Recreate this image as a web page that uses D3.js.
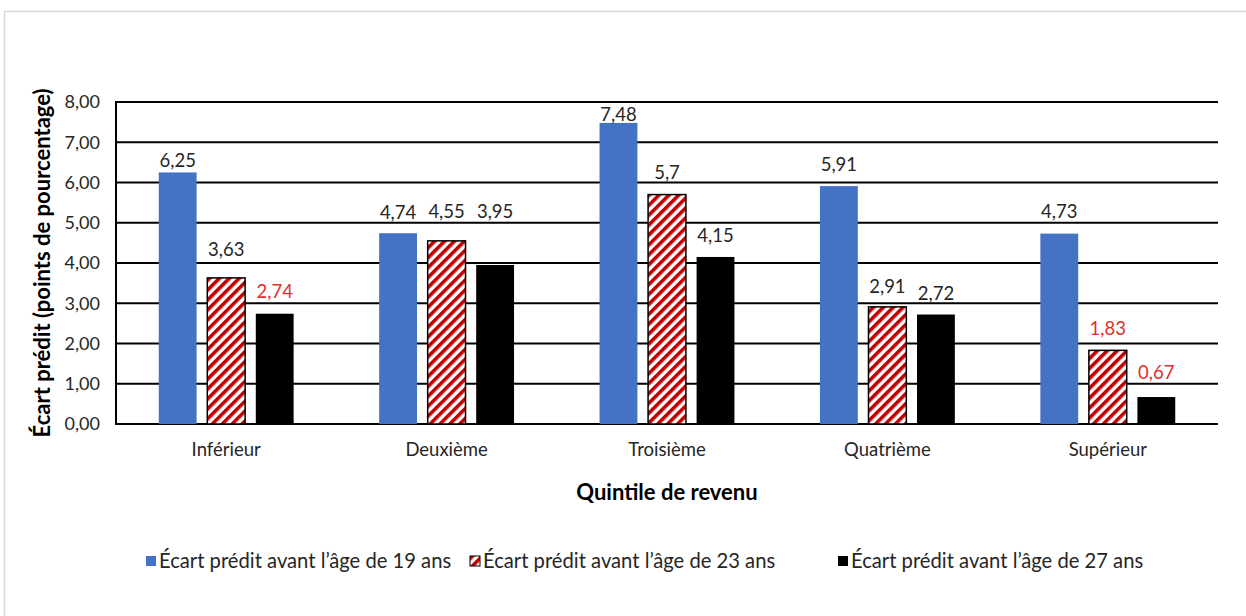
<!DOCTYPE html>
<html>
<head>
<meta charset="utf-8">
<script src="https://cdn.jsdelivr.net/npm/d3@7"></script>
<style>
  body { margin: 0; background: #fff; }
  text { font-family: Lato, "Open Sans", sans-serif; }
</style>
</head>
<body>
<script>
// data
var quintiles = ["Inférieur", "Deuxième", "Troisième", "Quatrième", "Supérieur"];
var seriesNames = [
  "Écart prédit avant l’âge de 19 ans",
  "Écart prédit avant l’âge de 23 ans",
  "Écart prédit avant l’âge de 27 ans"
];
var age19 = [6.25, 4.74, 7.48, 5.91, 4.73];
var age23 = [3.63, 4.55, 5.70, 2.91, 1.83];
var age27 = [2.74, 3.95, 4.15, 2.72, 0.67];
var valueText19 = ["6,25", "4,74", "7,48", "5,91", "4,73"];
var valueText23 = ["3,63", "4,55", "5,7", "2,91", "1,83"];
var valueText27 = ["2,74", "3,95", "4,15", "2,72", "0,67"];
var yTicks = [0, 1, 2, 3, 4, 5, 6, 7, 8];

// label layout (gap in px between bar top and label centre, labels were hand placed)
var labelGap19 = [12, 21, 8, 22, 22];
var labelGap23 = [28, 29, 22, 20, 22];
var labelGap27 = [22, 53, 21, 21, 25];
// which labels are red
var redLabel = [[false, false, false, false, false],
                [false, false, false, false, true],
                [true, false, false, false, true]];

var W = 1246, H = 616;
var margin = {top: 102, left: 116, right: 28, bottom: 192};
var width = W - margin.left - margin.right,
    height = H - margin.top - margin.bottom;

var svg = d3.select("body").append("svg")
    .attr("width", W)
    .attr("height", H);

// chart border (only top/left show in the picture)
svg.append("rect")
    .attr("x", 4.5).attr("y", 11.5)
    .attr("width", W + 20).attr("height", H + 20)
    .attr("fill", "#fff")
    .attr("stroke", "#d9d9d9")
    .attr("stroke-width", 1.5);

var defs = svg.append("defs");
var pat = defs.append("pattern")
    .attr("id", "hatch")
    .attr("patternUnits", "userSpaceOnUse")
    .attr("width", 7).attr("height", 7)
    .attr("patternTransform", "rotate(45)");
pat.append("rect").attr("width", 7).attr("height", 7).attr("fill", "#fff");
pat.append("rect").attr("width", 3.6).attr("height", 7).attr("fill", "#c00000");

var g = svg.append("g")
    .attr("transform", "translate(" + margin.left + "," + margin.top + ")");

var x0 = d3.scaleBand()
    .domain(quintiles)
    .range([0, width])
    .paddingInner(0.388)
    .paddingOuter(0.194);

var x1 = d3.scaleBand()
    .domain([0, 1, 2])
    .range([0, x0.bandwidth()])
    .paddingInner(0.22);

var y = d3.scaleLinear()
    .domain([0, 8])
    .range([height, 0]);

// gridlines
g.append("g")
    .attr("class", "grid")
    .selectAll("line")
    .data(yTicks)
  .enter().append("line")
    .attr("x1", 0).attr("x2", width)
    .attr("y1", function(d) { return y(d); })
    .attr("y2", function(d) { return y(d); })
    .attr("stroke", "#000")
    .attr("stroke-width", 2);

g.append("line")
    .attr("x1", 0).attr("x2", 0)
    .attr("y1", y(8) - 1).attr("y2", y(0) + 1)
    .attr("stroke", "#000")
    .attr("stroke-width", 2);

// y tick labels
var fmt = function(d) { return d3.format(".2f")(d).replace(".", ","); };
var yAxis = d3.axisLeft(y)
    .tickValues(yTicks)
    .tickSize(0)
    .tickPadding(16)
    .tickFormat(fmt);
var ya = g.append("g").call(yAxis);
ya.select(".domain").remove();
ya.selectAll("text")
    .style("font-size", "18px")
    .style("font-family", "Lato, sans-serif")
    .attr("fill", "#262626");

// x labels
var xAxis = d3.axisBottom(x0).tickSize(0).tickPadding(19);
var xa = g.append("g")
    .attr("transform", "translate(0," + height + ")")
    .call(xAxis);
xa.select(".domain").remove();
xa.selectAll("text")
    .style("font-size", "18.5px")
    .style("font-family", "Lato, sans-serif")
    .attr("fill", "#262626");

// bars
var series = [
  {vals: age19, texts: valueText19, gaps: labelGap19, fill: "#4472c4", stroke: "none"},
  {vals: age23, texts: valueText23, gaps: labelGap23, fill: "url(#hatch)", stroke: "#000"},
  {vals: age27, texts: valueText27, gaps: labelGap27, fill: "#000", stroke: "none"}
];

var cells = [];
series.forEach(function(s, si) {
  s.vals.forEach(function(v, qi) {
    cells.push({s: si, q: quintiles[qi], v: v, t: s.texts[qi], gap: s.gaps[qi],
                fill: s.fill, stroke: s.stroke, red: redLabel[si][qi]});
  });
});

g.selectAll(".bar")
    .data(cells)
  .enter().append("rect")
    .attr("class", "bar")
    .attr("x", function(d) { return x0(d.q) + x1(d.s); })
    .attr("y", function(d) { return y(d.v); })
    .attr("width", x1.bandwidth())
    .attr("height", function(d) { return y(0) - y(d.v); })
    .attr("fill", function(d) { return d.fill; })
    .attr("stroke", function(d) { return d.stroke; })
    .attr("stroke-width", 1.5);

g.selectAll(".lbl")
    .data(cells)
  .enter().append("text")
    .attr("class", "lbl")
    .attr("x", function(d) { return x0(d.q) + x1(d.s) + x1.bandwidth() / 2; })
    .attr("y", function(d) { return y(d.v) - d.gap; })
    .attr("dy", "0.35em")
    .attr("text-anchor", "middle")
    .style("font-size", "18.5px")
    .attr("fill", function(d) { return d.red ? "#e0302e" : "#262626"; })
    .text(function(d) { return d.t; });

// axis titles
svg.append("text")
    .attr("x", margin.left + width / 2)
    .attr("y", 492)
    .attr("dy", "0.35em")
    .attr("text-anchor", "middle")
    .style("font-size", "22px")
    .style("font-weight", "bold")
    .text("Quintile de revenu");

svg.append("text")
    .attr("transform", "translate(42," + (margin.top + height / 2) + ") rotate(-90)")
    .attr("dy", "0.35em")
    .attr("text-anchor", "middle")
    .style("font-size", "22px")
    .style("font-weight", "bold")
    .text("Écart prédit (points de pourcentage)");

// legend
var legendX = [146, 470, 838];
var legend = svg.selectAll(".legend")
    .data(seriesNames)
  .enter().append("g")
    .attr("class", "legend")
    .attr("transform", function(d, i) { return "translate(" + legendX[i] + ",556)"; });

legend.append("rect")
    .attr("width", 10).attr("height", 10)
    .attr("fill", function(d, i) { return series[i].fill; })
    .attr("stroke", function(d, i) { return series[i].stroke; })
    .attr("stroke-width", 1);

legend.append("text")
    .attr("x", 13)
    .attr("y", 5)
    .attr("dy", "0.35em")
    .style("font-size", "20.2px")
    .attr("fill", "#262626")
    .text(function(d) { return d; });
</script>
</body>
</html>
